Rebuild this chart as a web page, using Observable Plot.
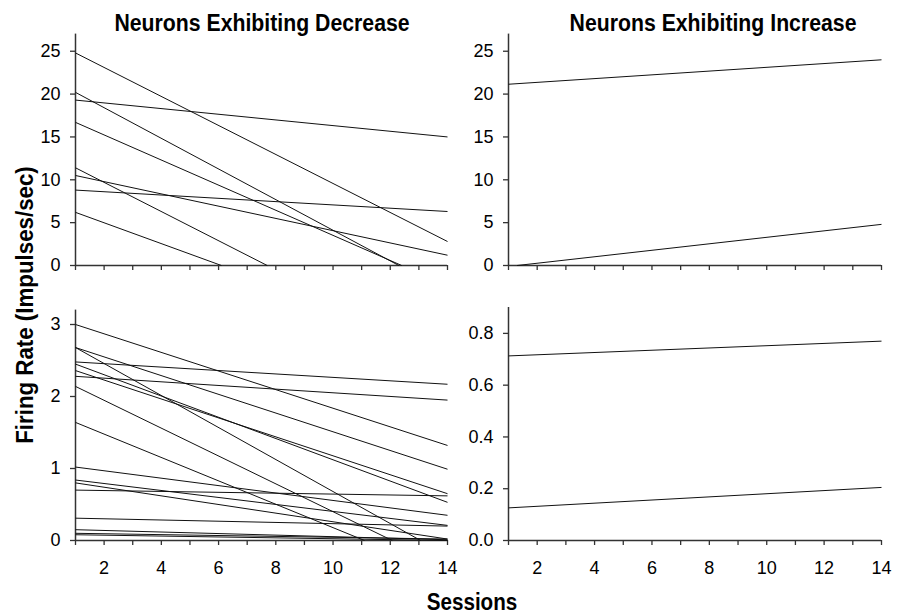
<!DOCTYPE html>
<html><head><meta charset="utf-8">
<script src="https://cdn.jsdelivr.net/npm/d3@7"></script>
<script src="https://cdn.jsdelivr.net/npm/@observablehq/plot@0.6"></script>
<style>
body{margin:0;background:#fff;}
#wrap{position:relative;width:904px;height:615px;overflow:hidden;background:#fff;}
.panel{position:absolute;}
#overlay{position:absolute;left:0;top:0;pointer-events:none;}
#overlay text{font-family:"Liberation Sans",Arial,sans-serif;font-weight:bold;font-size:24px;fill:#000;}
</style></head><body><div id="wrap"></div>
<script>
// ---- data ----
const sessionTicks = [1,2,3,4,5,6,7,8,9,10,11,12,13,14];

// Neurons exhibiting decrease, higher firing rates (top-left)
const decHiX0 = [1, 1, 1, 1, 1, 1, 1, 1];
const decHiY0 = [24.8, 20.2, 19.3, 16.7, 11.4, 10.5, 8.8, 6.2];
const decHiX1 = [14, 12.3, 14, 12.4, 7.7, 14, 14, 6.1];
const decHiY1 = [2.8, 0, 15.0, 0, 0, 1.2, 6.3, 0];
const decHiTicks = [0, 5, 10, 15, 20, 25];

// Neurons exhibiting decrease, lower firing rates (bottom-left)
const decLoX0 = [1,1,1,1,1,1,1,1,1,1,1,1,1,1,1,1,1];
const decLoY0 = [3.00, 2.68, 2.68, 2.48, 2.45, 2.36, 2.28, 2.14, 1.64, 1.02, 0.84, 0.80, 0.70, 0.31, 0.15, 0.10, 0.08];
const decLoX1 = [14, 14, 13.06, 14, 14, 14, 14, 12.07, 11.1, 14, 14, 14, 14, 14, 14, 14, 14];
const decLoY1 = [1.32, 0.99, 0, 2.17, 0.53, 0.65, 1.95, 0, 0, 0.35, 0.21, 0.02, 0.62, 0.20, 0.01, 0.02, 0.0];
const decLoTicks = [0, 1, 2, 3];

// Neurons exhibiting increase, higher firing rates (top-right)
const incHiX0 = [1, 1.3];
const incHiY0 = [21.15, 0];
const incHiX1 = [14, 14];
const incHiY1 = [24.0, 4.8];
const incHiTicks = [0, 5, 10, 15, 20, 25];

// Neurons exhibiting increase, lower firing rates (bottom-right)
const incLoX0 = [1, 1];
const incLoY0 = [0.713, 0.126];
const incLoX1 = [14, 14];
const incLoY1 = [0.77, 0.205];
const incLoTicks = [0, 0.2, 0.4, 0.6, 0.8];

const titles = ["Neurons Exhibiting Decrease", "Neurons Exhibiting Increase"];
const xLabel = "Sessions";
const yLabel = "Firing Rate (Impulses/sec)";

// ---- drawing ----
const wrap = document.getElementById("wrap");
const axisColor = "#333";

function panel({left, top, width, height, mL, mR, mT, mB, yMax, yTicks, yFmt, showX, x0, y0, x1, y1}) {
  const segs = y0.map((v, i) => ({x0: x0[i], y0: v, x1: x1[i], y1: y1[i]}));
  const chart = Plot.plot({
    width, height,
    marginLeft: mL, marginRight: mR, marginTop: mT, marginBottom: mB,
    style: {fontFamily: "Liberation Sans, Arial, sans-serif", fontSize: "18px", color: "#000", background: "transparent", overflow: "visible"},
    x: {domain: [1, 14]},
    y: {domain: [0, yMax]},
    marks: [
      Plot.axisY({ticks: yTicks, tickSize: 5, tickPadding: 10, tickFormat: yFmt, label: null, stroke: axisColor, strokeWidth: 1.3}),
      Plot.axisX({ticks: sessionTicks, tickSize: 5, tickPadding: 16,
        tickFormat: d => (showX && d % 2 === 0) ? String(d) : "", label: null, stroke: axisColor, strokeWidth: 1.3}),
      Plot.ruleX([1], {y1: 0, y2: yMax, stroke: axisColor, strokeWidth: 1.5}),
      Plot.ruleY([0], {x1: 1, x2: 14, stroke: axisColor, strokeWidth: 1.5}),
      Plot.link(segs, {x1: "x0", y1: "y0", x2: "x1", y2: "y1", stroke: "#111", strokeWidth: 1})
    ]
  });
  const d = document.createElement("div");
  d.className = "panel";
  d.style.left = left + "px";
  d.style.top = top + "px";
  d.appendChild(chart);
  wrap.appendChild(d);
}

panel({left: 0, top: 0, width: 460, height: 290, mL: 75, mR: 13, mT: 33.6, mB: 25,
  yMax: 27, yTicks: decHiTicks, yFmt: d => String(d), showX: false,
  x0: decHiX0, y0: decHiY0, x1: decHiX1, y1: decHiY1});
panel({left: 0, top: 290, width: 460, height: 325, mL: 75, mR: 13, mT: 19.6, mB: 75,
  yMax: 3.2, yTicks: decLoTicks, yFmt: d => String(d), showX: true,
  x0: decLoX0, y0: decLoY0, x1: decLoX1, y1: decLoY1});
panel({left: 460, top: 0, width: 444, height: 290, mL: 48, mR: 23, mT: 33.6, mB: 25,
  yMax: 27, yTicks: incHiTicks, yFmt: d => String(d), showX: false,
  x0: incHiX0, y0: incHiY0, x1: incHiX1, y1: incHiY1});
panel({left: 460, top: 290, width: 444, height: 325, mL: 48, mR: 23, mT: 17, mB: 75,
  yMax: 0.9, yTicks: incLoTicks, yFmt: d3.format(".1f"), showX: true,
  x0: incLoX0, y0: incLoY0, x1: incLoX1, y1: incLoY1});

// text overlay (bold labels, horizontally condensed to match the reference's narrow face)
const svg = d3.select(wrap).append("svg").attr("id", "overlay").attr("width", 904).attr("height", 615);
svg.append("text").attr("transform", "translate(262,30.5) scale(0.886,1)").attr("text-anchor", "middle").text(titles[0]);
svg.append("text").attr("transform", "translate(713,30.5) scale(0.886,1)").attr("text-anchor", "middle").text(titles[1]);
svg.append("text").attr("transform", "translate(472,610) scale(0.86,1)").attr("text-anchor", "middle").text(xLabel);
svg.append("text").attr("transform", "translate(33,305) rotate(-90) scale(0.93,1)").attr("text-anchor", "middle").text(yLabel);
</script>
</body></html>
